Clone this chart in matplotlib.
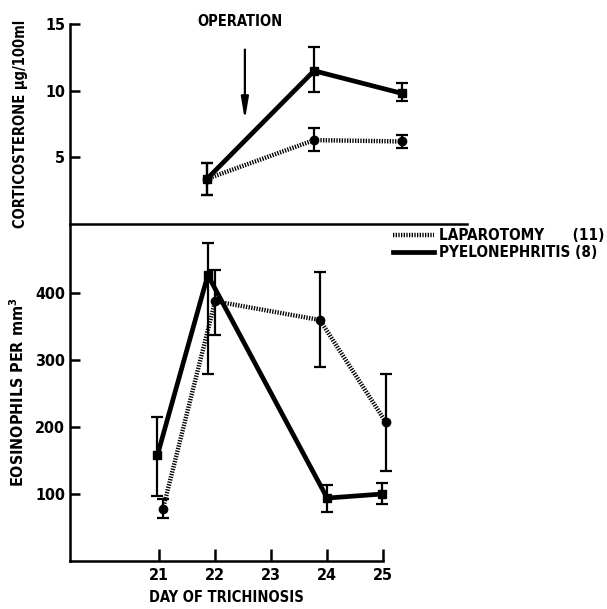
import numpy as np
import matplotlib
matplotlib.use('Agg')
from matplotlib import pyplot as plt

plt.rcParams['font.family'] = ['DejaVu Sans']
plt.rcParams['font.stretch'] = 'condensed'
plt.rcParams['font.weight'] = 'bold'
plt.rcParams['axes.labelweight'] = 'bold'

# corticosterone panel (top), positions
cort_days = [21.9, 23.6, 25.0]
cort_lap = [3.4, 6.3, 6.2]
cort_lap_lo = [2.2, 5.5, 5.7]
cort_lap_hi = [4.6, 7.2, 6.7]
cort_pye = [3.4, 11.5, 9.8]
cort_pye_lo = [2.2, 9.9, 9.2]
cort_pye_hi = [4.6, 13.3, 10.6]

# eosinophil panel (bottom)
eos_lap_days = [21.07, 22.0, 23.87, 25.05]
eos_lap = [78, 388, 360, 207]
eos_lap_lo = [64, 337, 290, 134]
eos_lap_hi = [93, 434, 431, 279]
eos_pye_days = [20.97, 21.87, 24.0, 24.97]
eos_pye = [158, 427, 94, 100]
eos_pye_lo = [97, 279, 73, 85]
eos_pye_hi = [215, 475, 113, 116]

day_ticks = [21, 22, 23, 24, 25]
cort_ticks = [5, 10, 15]
eos_ticks = [100, 200, 300, 400]

lap_style = dict(color='black', lw=3.2, linestyle=(0, (0.3, 0.3)), dash_capstyle='butt')
pye_style = dict(color='black', lw=3.4, linestyle='-')
eb_style = dict(fmt='none', ecolor='black', elinewidth=1.6, capsize=4.5, capthick=1.6)


def style_axes(ax):
	for s in ['top', 'right']:
		ax.spines[s].set_visible(False)
	for s in ['left', 'bottom']:
		ax.spines[s].set_linewidth(1.8)
	ax.tick_params(direction='in', length=7, width=1.8, labelsize=11.5)
	ax.patch.set_visible(False)


fig = plt.figure(figsize=(6.07, 6.09), dpi=100)

# top panel
ax1 = fig.add_axes([0.1153, 0.632, 0.654, 0.3284])
style_axes(ax1)
lo = np.array(cort_lap) - np.array(cort_lap_lo)
hi = np.array(cort_lap_hi) - np.array(cort_lap)
ax1.errorbar(cort_days, cort_lap, yerr=[lo, hi], **eb_style)
lo = np.array(cort_pye) - np.array(cort_pye_lo)
hi = np.array(cort_pye_hi) - np.array(cort_pye)
ax1.errorbar(cort_days, cort_pye, yerr=[lo, hi], **eb_style)
ax1.plot(cort_days, cort_lap, **lap_style)
ax1.plot(cort_days, cort_pye, **pye_style)
ax1.plot(cort_days, cort_lap, 'o', color='black', ms=6)
ax1.plot(cort_days, cort_pye, 's', color='black', ms=6)
ax1.set_xlim(19.72, 26.03)
ax1.set_ylim(0, 15)
ax1.set_yticks(cort_ticks)
ax1.set_xticks([])
ax1.set_ylabel('CORTICOSTERONE µg/100ml', fontsize=10.5, labelpad=12)
ax1.annotate('', xy=(22.5, 7.6), xytext=(22.5, 13.3),
	arrowprops=dict(arrowstyle='-|>,head_width=0.22,head_length=1.3', color='black', lw=1.6))
ax1.text(22.43, 14.6, 'OPERATION', ha='center', va='bottom', fontsize=10.5)

# bottom panel
ax2 = fig.add_axes([0.1153, 0.0788, 0.516, 0.553])
style_axes(ax2)
lo = np.array(eos_lap) - np.array(eos_lap_lo)
hi = np.array(eos_lap_hi) - np.array(eos_lap)
ax2.errorbar(eos_lap_days, eos_lap, yerr=[lo, hi], clip_on=False, **eb_style)
lo = np.array(eos_pye) - np.array(eos_pye_lo)
hi = np.array(eos_pye_hi) - np.array(eos_pye)
ax2.errorbar(eos_pye_days, eos_pye, yerr=[lo, hi], clip_on=False, **eb_style)
l1, = ax2.plot(eos_lap_days, eos_lap, clip_on=False, **lap_style)
l2, = ax2.plot(eos_pye_days, eos_pye, clip_on=False, **pye_style)
ax2.plot(eos_lap_days, eos_lap, 'o', color='black', ms=6, clip_on=False)
ax2.plot(eos_pye_days, eos_pye, 's', color='black', ms=6, clip_on=False)
ax2.set_xlim(19.41, 25.0)
ax2.set_ylim(0, 503)
ax2.set_xticks(day_ticks)
ax2.set_yticks(eos_ticks)
ax2.tick_params(axis='x', length=9, pad=5)
ax2.set_ylabel('EOSINOPHILS PER mm$^3$', fontsize=11.5, labelpad=6)
ax2.set_xlabel('DAY OF TRICHINOSIS', fontsize=10.5, labelpad=5)

fig.legend([l1, l2], ['LAPAROTOMY      (11)', 'PYELONEPHRITIS (8)'],
	loc='upper left', bbox_to_anchor=(0.625, 0.648), frameon=False,
	handlelength=2.7, handletextpad=0.3, labelspacing=0.15, fontsize=11)

fig.savefig('out.png', dpi=100)
